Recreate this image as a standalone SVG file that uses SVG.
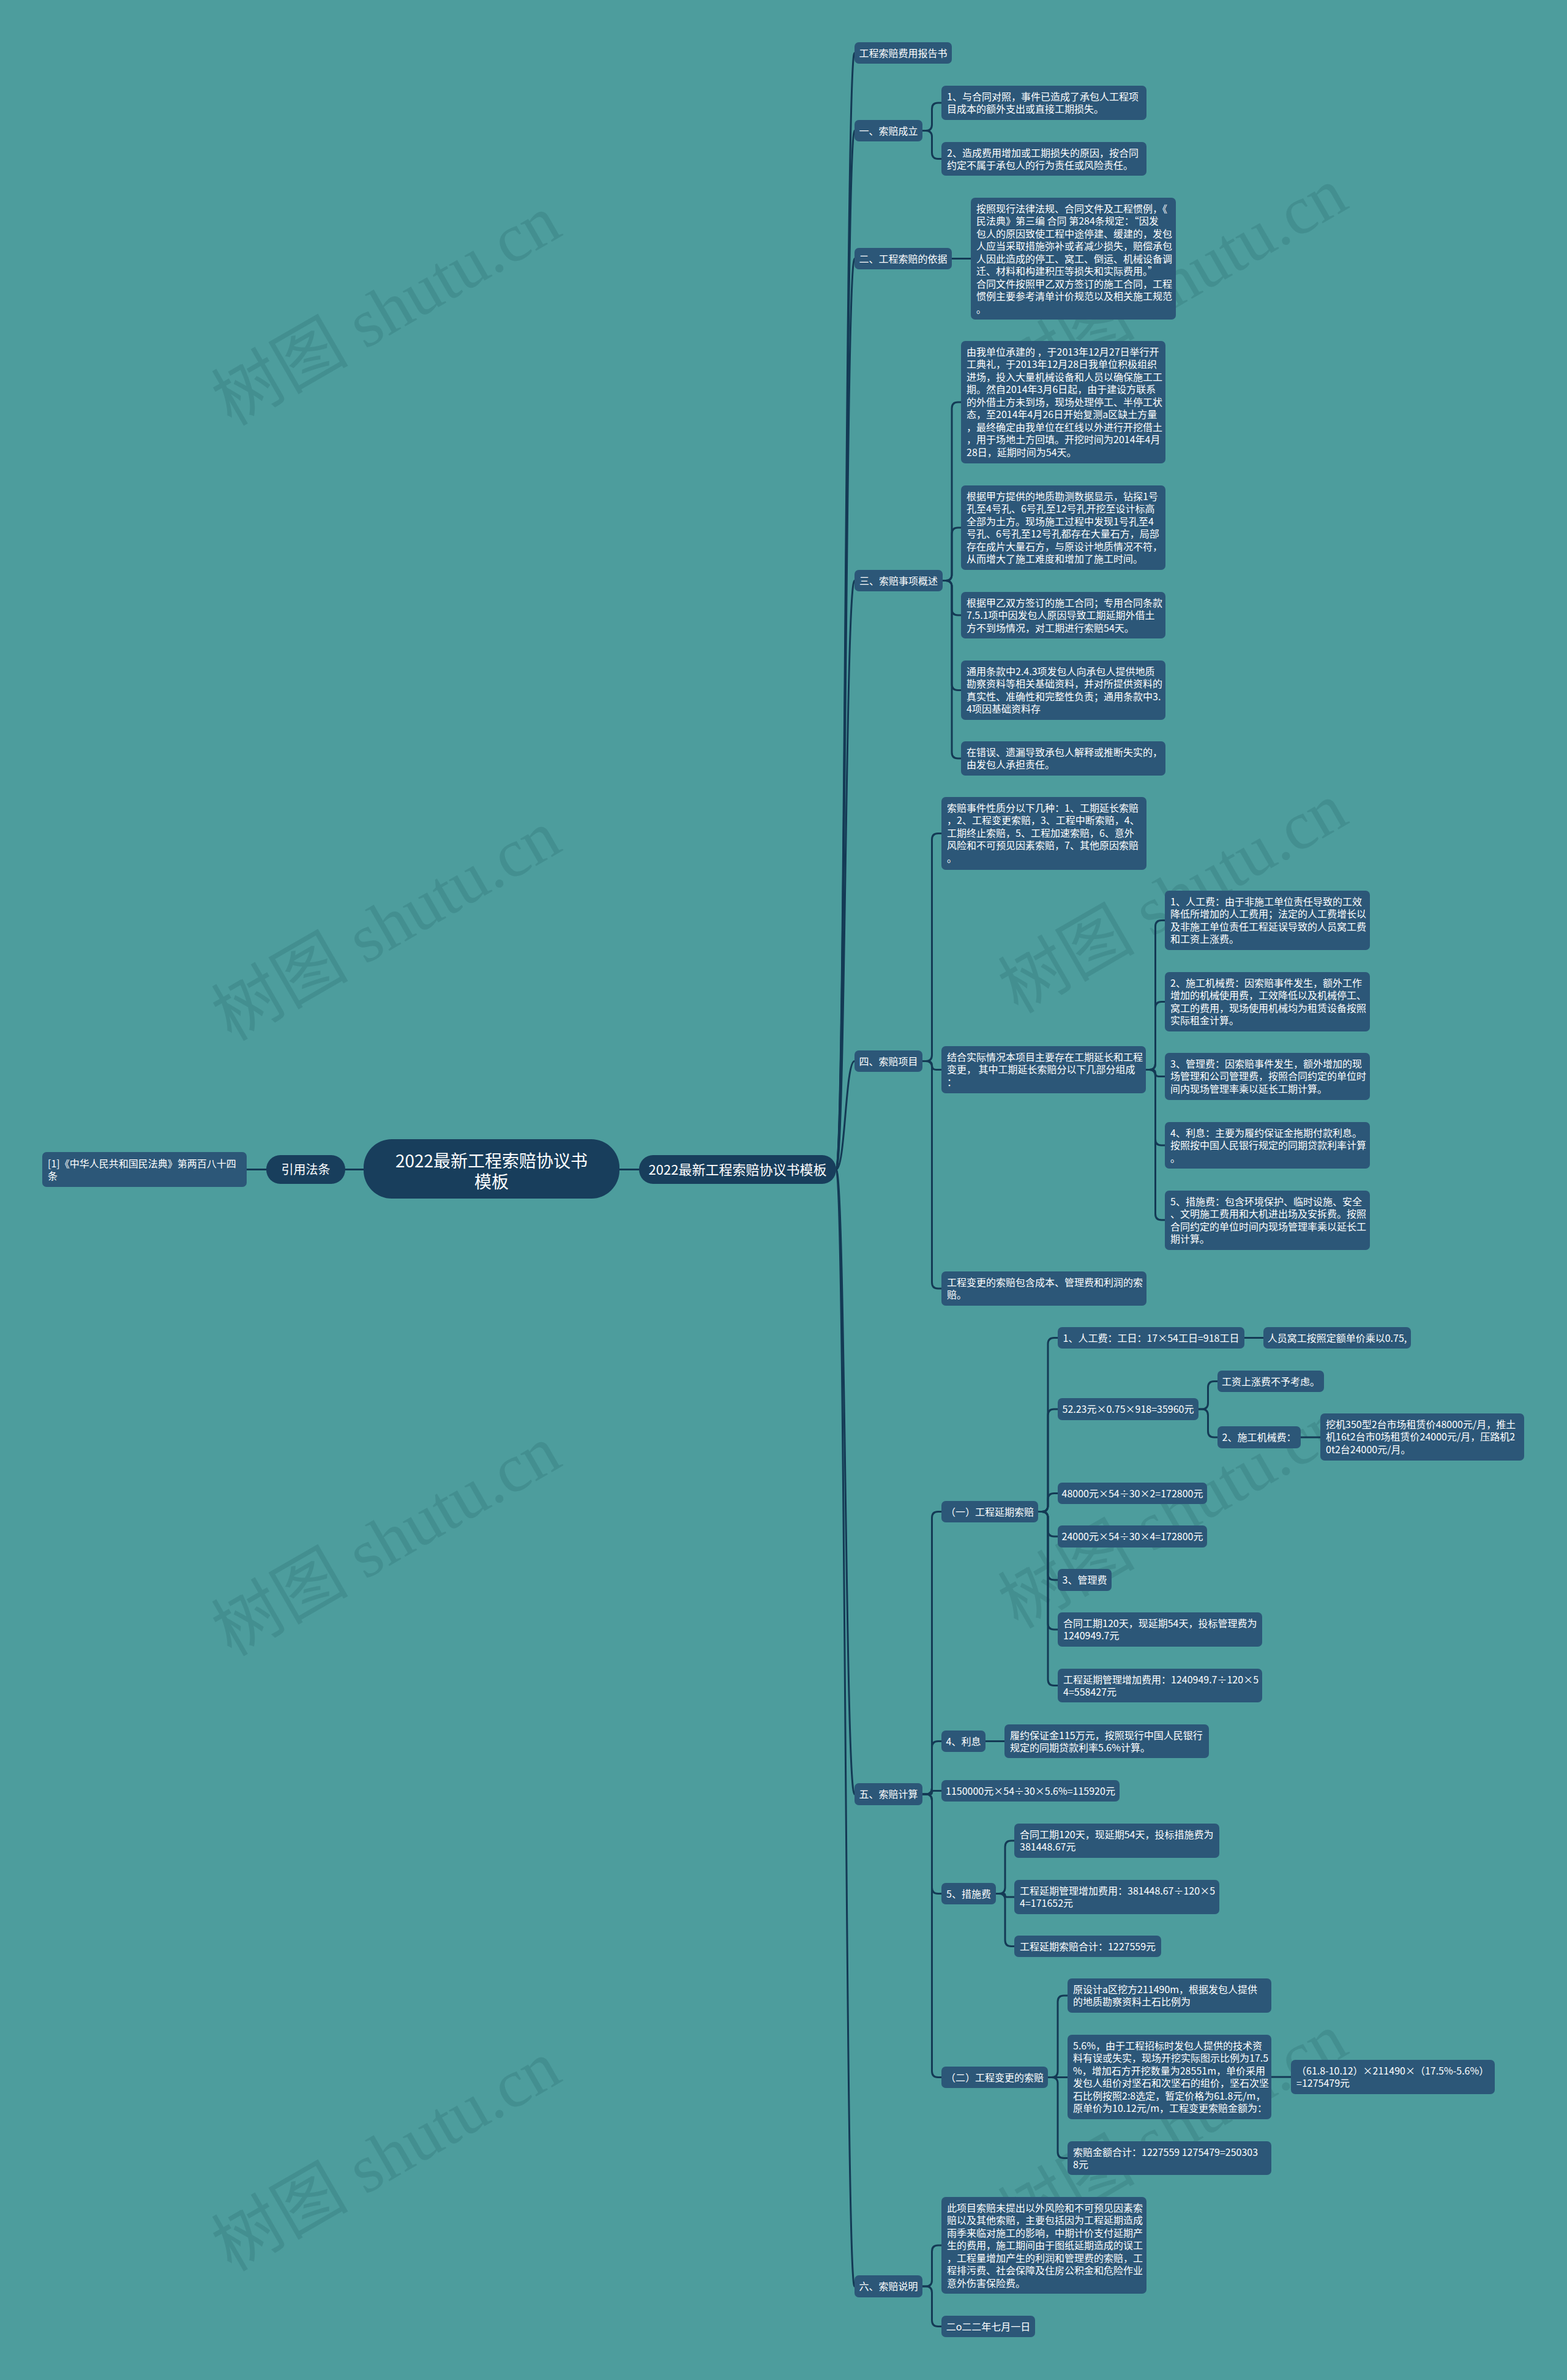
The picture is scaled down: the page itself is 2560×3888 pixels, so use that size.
<svg xmlns="http://www.w3.org/2000/svg" width="2560" height="3888" viewBox="0 0 2560 3888">
<style>
.bg{fill:#4d9d9d}
.node rect{fill:#2c5778}
.pill rect{fill:#183e5c}
text{font-family:"Noto Sans CJK SC","Liberation Sans",sans-serif;fill:#ffffff;font-size:16px}
.c{text-anchor:middle}
.conn path{fill:none;stroke:#143a55;stroke-width:3;stroke-linecap:round}
.wm{font-family:"Liberation Serif","Noto Sans CJK SC",serif;font-size:112px;fill:#1f5f66;fill-opacity:0.22;text-anchor:middle}
</style>
<rect class="bg" x="0" y="0" width="2560" height="3888"/>
<g id="watermarks">
<text class="wm" transform="translate(650,540) rotate(-30)">树图 shutu.cn</text>
<text class="wm" transform="translate(1935,495) rotate(-30)">树图 shutu.cn</text>
<text class="wm" transform="translate(650,1545) rotate(-30)">树图 shutu.cn</text>
<text class="wm" transform="translate(1935,1500) rotate(-30)">树图 shutu.cn</text>
<text class="wm" transform="translate(650,2550) rotate(-30)">树图 shutu.cn</text>
<text class="wm" transform="translate(1935,2505) rotate(-30)">树图 shutu.cn</text>
<text class="wm" transform="translate(650,3555) rotate(-30)">树图 shutu.cn</text>
<text class="wm" transform="translate(1935,3510) rotate(-30)">树图 shutu.cn</text>
</g>
<g id="connectors" class="conn">
<path d="M403,1910.5 H435"/>
<path d="M564,1910.5 H594"/>
<path d="M1012,1910.5 H1044"/>
<path d="M1366,1910.5 C1381,1910.5 1381,86.5 1396,86.5"/>
<path d="M1366,1910.5 C1381,1910.5 1381,213.5 1396,213.5"/>
<path d="M1366,1910.5 C1381,1910.5 1381,422.5 1396,422.5"/>
<path d="M1366,1910.5 C1381,1910.5 1381,948.5 1396,948.5"/>
<path d="M1366,1910.5 C1381,1910.5 1381,1733.5 1396,1733.5"/>
<path d="M1366,1910.5 C1381,1910.5 1381,2931 1396,2931"/>
<path d="M1366,1910.5 C1381,1910.5 1381,3735 1396,3735"/>
<path d="M1507,213.5 H1512.5 Q1522.5,213.5 1522.5,203.5 V178 Q1522.5,168 1532.5,168 H1538"/>
<path d="M1507,213.5 H1512.5 Q1522.5,213.5 1522.5,223.5 V249.5 Q1522.5,259.5 1532.5,259.5 H1538"/>
<path d="M1555,422.5 H1586"/>
<path d="M1540,948.5 H1545 Q1555,948.5 1555,938.5 V667 Q1555,657 1565,657 H1570"/>
<path d="M1540,948.5 H1545 Q1555,948.5 1555,938.5 V872 Q1555,862 1565,862 H1570"/>
<path d="M1540,948.5 H1545 Q1555,948.5 1555,958.5 V995 Q1555,1005 1565,1005 H1570"/>
<path d="M1540,948.5 H1545 Q1555,948.5 1555,958.5 V1117.5 Q1555,1127.5 1565,1127.5 H1570"/>
<path d="M1540,948.5 H1545 Q1555,948.5 1555,958.5 V1229 Q1555,1239 1565,1239 H1570"/>
<path d="M1507,1733.5 H1512.5 Q1522.5,1733.5 1522.5,1723.5 V1371.5 Q1522.5,1361.5 1532.5,1361.5 H1538"/>
<path d="M1507,1733.5 H1515.5 Q1522.5,1733.5 1522.5,1740.5 Q1522.5,1747.5 1529.5,1747.5 H1538"/>
<path d="M1507,1733.5 H1512.5 Q1522.5,1733.5 1522.5,1743.5 V2095 Q1522.5,2105 1532.5,2105 H1538"/>
<path d="M1872,1747.5 H1877.5 Q1887.5,1747.5 1887.5,1737.5 V1513.5 Q1887.5,1503.5 1897.5,1503.5 H1903"/>
<path d="M1872,1747.5 H1877.5 Q1887.5,1747.5 1887.5,1737.5 V1646.5 Q1887.5,1636.5 1897.5,1636.5 H1903"/>
<path d="M1872,1747.5 H1882 Q1887.5,1747.5 1887.5,1753 Q1887.5,1758.5 1893,1758.5 H1903"/>
<path d="M1872,1747.5 H1877.5 Q1887.5,1747.5 1887.5,1757.5 V1861 Q1887.5,1871 1897.5,1871 H1903"/>
<path d="M1872,1747.5 H1877.5 Q1887.5,1747.5 1887.5,1757.5 V1983 Q1887.5,1993 1897.5,1993 H1903"/>
<path d="M1507,2931 H1512.5 Q1522.5,2931 1522.5,2921 V2479.5 Q1522.5,2469.5 1532.5,2469.5 H1538"/>
<path d="M1507,2931 H1512.5 Q1522.5,2931 1522.5,2921 V2854.5 Q1522.5,2844.5 1532.5,2844.5 H1538"/>
<path d="M1507,2931 H1519.75 Q1522.5,2931 1522.5,2928.25 Q1522.5,2925.5 1525.25,2925.5 H1538"/>
<path d="M1507,2931 H1512.5 Q1522.5,2931 1522.5,2941 V3083.5 Q1522.5,3093.5 1532.5,3093.5 H1538"/>
<path d="M1507,2931 H1512.5 Q1522.5,2931 1522.5,2941 V3383.5 Q1522.5,3393.5 1532.5,3393.5 H1538"/>
<path d="M1696,2469.5 H1702 Q1712,2469.5 1712,2459.5 V2195.5 Q1712,2185.5 1722,2185.5 H1728"/>
<path d="M1696,2469.5 H1702 Q1712,2469.5 1712,2459.5 V2312 Q1712,2302 1722,2302 H1728"/>
<path d="M1696,2469.5 H1702 Q1712,2469.5 1712,2459.5 V2449.5 Q1712,2439.5 1722,2439.5 H1728"/>
<path d="M1696,2469.5 H1702 Q1712,2469.5 1712,2479.5 V2500 Q1712,2510 1722,2510 H1728"/>
<path d="M1696,2469.5 H1702 Q1712,2469.5 1712,2479.5 V2571 Q1712,2581 1722,2581 H1728"/>
<path d="M1696,2469.5 H1702 Q1712,2469.5 1712,2479.5 V2652 Q1712,2662 1722,2662 H1728"/>
<path d="M1696,2469.5 H1702 Q1712,2469.5 1712,2479.5 V2743.5 Q1712,2753.5 1722,2753.5 H1728"/>
<path d="M2033,2185.5 H2064"/>
<path d="M1958,2302 H1963.5 Q1973.5,2302 1973.5,2292 V2266.5 Q1973.5,2256.5 1983.5,2256.5 H1989"/>
<path d="M1958,2302 H1963.5 Q1973.5,2302 1973.5,2312 V2338 Q1973.5,2348 1983.5,2348 H1989"/>
<path d="M2125,2348 H2157"/>
<path d="M1610,2844.5 H1641"/>
<path d="M1627,3093.5 H1632 Q1642,3093.5 1642,3083.5 V3017 Q1642,3007 1652,3007 H1657"/>
<path d="M1627,3093.5 H1639.25 Q1642,3093.5 1642,3096.25 Q1642,3099 1644.75,3099 H1657"/>
<path d="M1627,3093.5 H1632 Q1642,3093.5 1642,3103.5 V3169.5 Q1642,3179.5 1652,3179.5 H1657"/>
<path d="M1712,3393.5 H1718 Q1728,3393.5 1728,3383.5 V3270 Q1728,3260 1738,3260 H1744"/>
<path d="M1712,3393.5 H1744"/>
<path d="M1712,3393.5 H1718 Q1728,3393.5 1728,3403.5 V3515.5 Q1728,3525.5 1738,3525.5 H1744"/>
<path d="M2077,3393 H2109"/>
<path d="M1507,3735 H1512.5 Q1522.5,3735 1522.5,3725 V3678 Q1522.5,3668 1532.5,3668 H1538"/>
<path d="M1507,3735 H1512.5 Q1522.5,3735 1522.5,3745 V3790.5 Q1522.5,3800.5 1532.5,3800.5 H1538"/>
</g>
<g id="n_ref" class="node"><rect x="69" y="1882" width="334" height="57" rx="7"/><text><tspan x="78" y="1906.5">[1]《中华人民共和国民法典》第两百八十四</tspan><tspan x="78" y="1927">条</tspan></text></g>
<g id="n_yinyong" class="pill"><rect x="435" y="1887" width="129" height="47" rx="23"/><text class="c" x="499.5" y="1918" style="font-size:20px">引用法条</text></g>
<g id="n_root" class="pill"><rect x="594" y="1861" width="418" height="97" rx="46"/><text class="c" style="font-size:28px"><tspan x="803" y="1907">2022最新工程索赔协议书</tspan><tspan x="803" y="1941">模板</tspan></text></g>
<g id="n_main" class="pill"><rect x="1044" y="1887" width="322" height="47" rx="23"/><text class="c" x="1205" y="1919" style="font-size:22px">2022最新工程索赔协议书模板</text></g>

<g id="n_report" class="node"><rect x="1396" y="69" width="159" height="35" rx="7"/><text class="c" x="1475.5" y="92.5">工程索赔费用报告书</text></g>
<g id="n_s1" class="node"><rect x="1396" y="196" width="111" height="35" rx="7"/><text class="c" x="1451.5" y="219.5">一、索赔成立</text></g>
<g id="n_s1a" class="node"><rect x="1538" y="140" width="335" height="56" rx="7"/><text><tspan x="1547" y="163.75">1、与合同对照，事件已造成了承包人工程项</tspan><tspan x="1547" y="184.25">目成本的额外支出或直接工期损失。</tspan></text></g>
<g id="n_s1b" class="node"><rect x="1538" y="232" width="335" height="55" rx="7"/><text><tspan x="1547" y="255.75">2、造成费用增加或工期损失的原因，按合同</tspan><tspan x="1547" y="276.25">约定不属于承包人的行为责任或风险责任。</tspan></text></g>
<g id="n_s2" class="node"><rect x="1396" y="405" width="159" height="35" rx="7"/><text class="c" x="1475.5" y="428.5">二、工程索赔的依据</text></g>
<g id="n_s2a" class="node"><rect x="1586" y="323" width="335" height="199" rx="7"/><text><tspan x="1595" y="346.75">按照现行法律法规、合同文件及工程惯例，《</tspan><tspan x="1595" y="367.25">民法典》第三编 合同 第284条规定：“因发</tspan><tspan x="1595" y="387.75">包人的原因致使工程中途停建、缓建的，发包</tspan><tspan x="1595" y="408.25">人应当采取措施弥补或者减少损失，赔偿承包</tspan><tspan x="1595" y="428.75">人因此造成的停工、窝工、倒运、机械设备调</tspan><tspan x="1595" y="449.25">迁、材料和构建积压等损失和实际费用。”</tspan><tspan x="1595" y="469.75">合同文件按照甲乙双方签订的施工合同，工程</tspan><tspan x="1595" y="490.25">惯例主要参考清单计价规范以及相关施工规范</tspan><tspan x="1595" y="510.75">。</tspan></text></g>
<g id="n_s3" class="node"><rect x="1396" y="931" width="144" height="35" rx="7"/><text class="c" x="1468" y="954.5">三、索赔事项概述</text></g>
<g id="n_s3a" class="node"><rect x="1570" y="557" width="334" height="200" rx="7"/><text><tspan x="1579" y="580.75">由我单位承建的 ，于2013年12月27日举行开</tspan><tspan x="1579" y="601.25">工典礼，于2013年12月28日我单位积极组织</tspan><tspan x="1579" y="621.75">进场，投入大量机械设备和人员以确保施工工</tspan><tspan x="1579" y="642.25">期。然自2014年3月6日起，由于建设方联系</tspan><tspan x="1579" y="662.75">的外借土方未到场，现场处理停工、半停工状</tspan><tspan x="1579" y="683.25">态，至2014年4月26日开始复测a区缺土方量</tspan><tspan x="1579" y="703.75">，最终确定由我单位在红线以外进行开挖借土</tspan><tspan x="1579" y="724.25">，用于场地土方回填。开挖时间为2014年4月</tspan><tspan x="1579" y="744.75">28日，延期时间为54天。</tspan></text></g>
<g id="n_s3b" class="node"><rect x="1570" y="793" width="334" height="138" rx="7"/><text><tspan x="1579" y="816.75">根据甲方提供的地质勘测数据显示，钻探1号</tspan><tspan x="1579" y="837.25">孔至4号孔、6号孔至12号孔开挖至设计标高</tspan><tspan x="1579" y="857.75">全部为土方。现场施工过程中发现1号孔至4</tspan><tspan x="1579" y="878.25">号孔、6号孔至12号孔都存在大量石方，局部</tspan><tspan x="1579" y="898.75">存在成片大量石方，与原设计地质情况不符，</tspan><tspan x="1579" y="919.25">从而增大了施工难度和增加了施工时间。</tspan></text></g>
<g id="n_s3c" class="node"><rect x="1570" y="967" width="334" height="76" rx="7"/><text><tspan x="1579" y="990.75">根据甲乙双方签订的施工合同；专用合同条款</tspan><tspan x="1579" y="1011.25">7.5.1项中因发包人原因导致工期延期外借土</tspan><tspan x="1579" y="1031.75">方不到场情况，对工期进行索赔54天。</tspan></text></g>
<g id="n_s3d" class="node"><rect x="1570" y="1079" width="334" height="97" rx="7"/><text><tspan x="1579" y="1102.75">通用条款中2.4.3项发包人向承包人提供地质</tspan><tspan x="1579" y="1123.25">勘察资料等相关基础资料，并对所提供资料的</tspan><tspan x="1579" y="1143.75">真实性、准确性和完整性负责；通用条款中3.</tspan><tspan x="1579" y="1164.25">4项因基础资料存</tspan></text></g>
<g id="n_s3e" class="node"><rect x="1570" y="1211" width="334" height="56" rx="7"/><text><tspan x="1579" y="1234.75">在错误、遗漏导致承包人解释或推断失实的，</tspan><tspan x="1579" y="1255.25">由发包人承担责任。</tspan></text></g>
<g id="n_s4" class="node"><rect x="1396" y="1716" width="111" height="35" rx="7"/><text class="c" x="1451.5" y="1739.5">四、索赔项目</text></g>
<g id="n_s4a" class="node"><rect x="1538" y="1302" width="335" height="119" rx="7"/><text><tspan x="1547" y="1325.75">索赔事件性质分以下几种：1、工期延长索赔</tspan><tspan x="1547" y="1346.25">，2、工程变更索赔，3、工程中断索赔，4、</tspan><tspan x="1547" y="1366.75">工期终止索赔，5、工程加速索赔，6、意外</tspan><tspan x="1547" y="1387.25">风险和不可预见因素索赔，7、其他原因索赔</tspan><tspan x="1547" y="1407.75">。</tspan></text></g>
<g id="n_s4b" class="node"><rect x="1538" y="1709" width="334" height="77" rx="7"/><text><tspan x="1547" y="1732.75">结合实际情况本项目主要存在工期延长和工程</tspan><tspan x="1547" y="1753.25">变更， 其中工期延长索赔分以下几部分组成</tspan><tspan x="1547" y="1773.75">：</tspan></text></g>
<g id="n_s4c" class="node"><rect x="1538" y="2077" width="335" height="56" rx="7"/><text><tspan x="1547" y="2100.75">工程变更的索赔包含成本、管理费和利润的索</tspan><tspan x="1547" y="2121.25">赔。</tspan></text></g>
<g id="n_s4b1" class="node"><rect x="1903" y="1455" width="335" height="97" rx="7"/><text><tspan x="1912" y="1478.75">1、人工费：由于非施工单位责任导致的工效</tspan><tspan x="1912" y="1499.25">降低所增加的人工费用；法定的人工费增长以</tspan><tspan x="1912" y="1519.75">及非施工单位责任工程延误导致的人员窝工费</tspan><tspan x="1912" y="1540.25">和工资上涨费。</tspan></text></g>
<g id="n_s4b2" class="node"><rect x="1903" y="1588" width="335" height="97" rx="7"/><text><tspan x="1912" y="1611.75">2、施工机械费：因索赔事件发生，额外工作</tspan><tspan x="1912" y="1632.25">增加的机械使用费，工效降低以及机械停工、</tspan><tspan x="1912" y="1652.75">窝工的费用，现场使用机械均为租赁设备按照</tspan><tspan x="1912" y="1673.25">实际租金计算。</tspan></text></g>
<g id="n_s4b3" class="node"><rect x="1903" y="1720" width="335" height="77" rx="7"/><text><tspan x="1912" y="1743.75">3、管理费：因索赔事件发生，额外增加的现</tspan><tspan x="1912" y="1764.25">场管理和公司管理费，按照合同约定的单位时</tspan><tspan x="1912" y="1784.75">间内现场管理率乘以延长工期计算。</tspan></text></g>
<g id="n_s4b4" class="node"><rect x="1903" y="1833" width="335" height="76" rx="7"/><text><tspan x="1912" y="1856.75">4、利息：主要为履约保证金拖期付款利息。</tspan><tspan x="1912" y="1877.25">按照按中国人民银行规定的同期贷款利率计算</tspan><tspan x="1912" y="1897.75">。</tspan></text></g>
<g id="n_s4b5" class="node"><rect x="1903" y="1945" width="335" height="97" rx="7"/><text><tspan x="1912" y="1968.75">5、措施费：包含环境保护、临时设施、安全</tspan><tspan x="1912" y="1989.25">、文明施工费用和大机进出场及安拆费。按照</tspan><tspan x="1912" y="2009.75">合同约定的单位时间内现场管理率乘以延长工</tspan><tspan x="1912" y="2030.25">期计算。</tspan></text></g>
<g id="n_s5" class="node"><rect x="1396" y="2913" width="111" height="36" rx="7"/><text class="c" x="1451.5" y="2937">五、索赔计算</text></g>
<g id="n_s5a" class="node"><rect x="1538" y="2452" width="158" height="35" rx="7"/><text class="c" x="1617" y="2475.5">（一）工程延期索赔</text></g>
<g id="n_a1" class="node"><rect x="1728" y="2168" width="305" height="35" rx="7"/><text class="c" x="1880.5" y="2191.5">1、人工费：工日：17×54工日=918工日</text></g>
<g id="n_a1a" class="node"><rect x="2064" y="2168" width="241" height="35" rx="7"/><text class="c" x="2184.5" y="2191.5">人员窝工按照定额单价乘以0.75,</text></g>
<g id="n_a2" class="node"><rect x="1728" y="2284" width="230" height="36" rx="7"/><text class="c" x="1843" y="2308">52.23元×0.75×918=35960元</text></g>
<g id="n_a2a" class="node"><rect x="1989" y="2239" width="174" height="35" rx="7"/><text class="c" x="2076" y="2262.5">工资上涨费不予考虑。</text></g>
<g id="n_a2b" class="node"><rect x="1989" y="2330" width="136" height="36" rx="7"/><text class="c" x="2057" y="2354">2、施工机械费：</text></g>
<g id="n_a2b1" class="node"><rect x="2157" y="2309" width="333" height="77" rx="7"/><text><tspan x="2166" y="2332.75">挖机350型2台市场租赁价48000元/月，推土</tspan><tspan x="2166" y="2353.25">机16t2台市0场租赁价24000元/月，压路机2</tspan><tspan x="2166" y="2373.75">0t2台24000元/月。</tspan></text></g>
<g id="n_a3" class="node"><rect x="1728" y="2422" width="244" height="35" rx="7"/><text class="c" x="1850" y="2445.5">48000元×54÷30×2=172800元</text></g>
<g id="n_a4" class="node"><rect x="1728" y="2492" width="244" height="36" rx="7"/><text class="c" x="1850" y="2516">24000元×54÷30×4=172800元</text></g>
<g id="n_a5" class="node"><rect x="1728" y="2563" width="88" height="36" rx="7"/><text class="c" x="1772" y="2587">3、管理费</text></g>
<g id="n_a6" class="node"><rect x="1728" y="2634" width="334" height="56" rx="7"/><text><tspan x="1737" y="2657.75">合同工期120天，现延期54天，投标管理费为</tspan><tspan x="1737" y="2678.25">1240949.7元</tspan></text></g>
<g id="n_a7" class="node"><rect x="1728" y="2726" width="334" height="55" rx="7"/><text><tspan x="1737" y="2749.75">工程延期管理增加费用：1240949.7÷120×5</tspan><tspan x="1737" y="2770.25">4=558427元</tspan></text></g>
<g id="n_s5b" class="node"><rect x="1538" y="2827" width="72" height="35" rx="7"/><text class="c" x="1574" y="2850.5">4、利息</text></g>
<g id="n_b1" class="node"><rect x="1641" y="2817" width="334" height="55" rx="7"/><text><tspan x="1650" y="2840.75">履约保证金115万元，按照现行中国人民银行</tspan><tspan x="1650" y="2861.25">规定的同期贷款利率5.6%计算。</tspan></text></g>
<g id="n_s5c" class="node"><rect x="1538" y="2908" width="291" height="35" rx="7"/><text class="c" x="1683.5" y="2931.5">1150000元×54÷30×5.6%=115920元</text></g>
<g id="n_s5d" class="node"><rect x="1538" y="3076" width="89" height="35" rx="7"/><text class="c" x="1582.5" y="3099.5">5、措施费</text></g>
<g id="n_d1" class="node"><rect x="1657" y="2979" width="335" height="56" rx="7"/><text><tspan x="1666" y="3002.75">合同工期120天，现延期54天，投标措施费为</tspan><tspan x="1666" y="3023.25">381448.67元</tspan></text></g>
<g id="n_d2" class="node"><rect x="1657" y="3071" width="335" height="56" rx="7"/><text><tspan x="1666" y="3094.75">工程延期管理增加费用：381448.67÷120×5</tspan><tspan x="1666" y="3115.25">4=171652元</tspan></text></g>
<g id="n_d3" class="node"><rect x="1657" y="3162" width="240" height="35" rx="7"/><text class="c" x="1777" y="3185.5">工程延期索赔合计：1227559元</text></g>
<g id="n_s5e" class="node"><rect x="1538" y="3376" width="174" height="35" rx="7"/><text class="c" x="1625" y="3399.5">（二）工程变更的索赔</text></g>
<g id="n_e1" class="node"><rect x="1744" y="3232" width="333" height="56" rx="7"/><text><tspan x="1753" y="3255.75">原设计a区挖方211490m，根据发包人提供</tspan><tspan x="1753" y="3276.25">的地质勘察资料土石比例为</tspan></text></g>
<g id="n_e2" class="node"><rect x="1744" y="3324" width="333" height="138" rx="7"/><text><tspan x="1753" y="3347.75">5.6%，由于工程招标时发包人提供的技术资</tspan><tspan x="1753" y="3368.25">料有误或失实，现场开挖实际图示比例为17.5</tspan><tspan x="1753" y="3388.75">%，增加石方开挖数量为28551m，单价采用</tspan><tspan x="1753" y="3409.25">发包人组价对坚石和次坚石的组价，坚石次坚</tspan><tspan x="1753" y="3429.75">石比例按照2:8选定，暂定价格为61.8元/m，</tspan><tspan x="1753" y="3450.25">原单价为10.12元/m，工程变更索赔金额为：</tspan></text></g>
<g id="n_e2a" class="node"><rect x="2109" y="3365" width="333" height="56" rx="7"/><text><tspan x="2118" y="3388.75">（61.8-10.12）×211490×（17.5%-5.6%）</tspan><tspan x="2118" y="3409.25">=1275479元</tspan></text></g>
<g id="n_e3" class="node"><rect x="1744" y="3498" width="333" height="55" rx="7"/><text><tspan x="1753" y="3521.75">索赔金额合计：1227559 1275479=250303</tspan><tspan x="1753" y="3542.25">8元</tspan></text></g>
<g id="n_s6" class="node"><rect x="1396" y="3717" width="111" height="36" rx="7"/><text class="c" x="1451.5" y="3741">六、索赔说明</text></g>
<g id="n_f1" class="node"><rect x="1538" y="3589" width="335" height="158" rx="7"/><text><tspan x="1547" y="3612.75">此项目索赔未提出以外风险和不可预见因素索</tspan><tspan x="1547" y="3633.25">赔以及其他索赔，主要包括因为工程延期造成</tspan><tspan x="1547" y="3653.75">雨季来临对施工的影响，中期计价支付延期产</tspan><tspan x="1547" y="3674.25">生的费用，施工期间由于图纸延期造成的误工</tspan><tspan x="1547" y="3694.75">，工程量增加产生的利润和管理费的索赔，工</tspan><tspan x="1547" y="3715.25">程排污费、社会保障及住房公积金和危险作业</tspan><tspan x="1547" y="3735.75">意外伤害保险费。</tspan></text></g>
<g id="n_f2" class="node"><rect x="1538" y="3783" width="153" height="35" rx="7"/><text class="c" x="1614.5" y="3806.5">二o二二年七月一日</text></g>
</svg>
